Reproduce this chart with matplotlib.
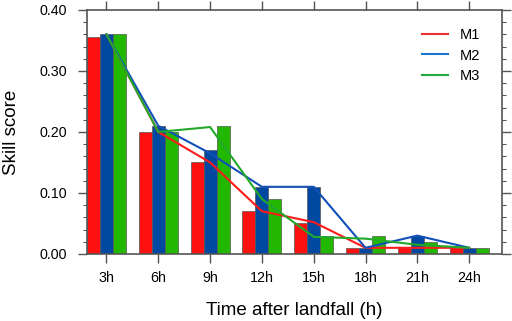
import numpy as np
import matplotlib
matplotlib.use("Agg")
import matplotlib.pyplot as plt
from matplotlib.ticker import MultipleLocator, FormatStrFormatter

plt.rcParams['font.family'] = ['Liberation Sans', 'DejaVu Sans']

# datos
horas = ['3h', '6h', '9h', '12h', '15h', '18h', '21h', '24h']
m1 = [0.355, 0.20, 0.15, 0.07, 0.05, 0.01, 0.01, 0.01]
m2 = [0.36, 0.21, 0.17, 0.11, 0.11, 0.01, 0.03, 0.01]
m3 = [0.36, 0.20, 0.21, 0.09, 0.03, 0.03, 0.02, 0.01]

# lineas (pasan por el centro de cada grupo)
m1_line = [0.36, 0.20, 0.15, 0.07, 0.052, 0.01, 0.01, 0.01]
m2_line = [0.36, 0.21, 0.165, 0.11, 0.11, 0.01, 0.03, 0.01]
m3_line = [0.36, 0.20, 0.208, 0.09, 0.028, 0.025, 0.015, 0.01]

bar_colors = ['#FF1010', '#0048A0', '#22B800']
line_colors = ['#FF1A1A', '#1050B8', '#22A82A']
leg_colors = ['#F03030', '#1878D0', '#20A840']

fig = plt.figure(figsize=(5.12, 3.21), dpi=100)
ax = fig.add_axes([0.170, 0.209, 0.810, 0.760])

x = np.arange(len(horas))
w = 0.25
for i, serie in enumerate([m1, m2, m3]):
    ax.bar(x + (i - 1) * w, serie, width=w, color=bar_colors[i],
           edgecolor='#555555', linewidth=0.5, zorder=2)

for i, serie in enumerate([m1_line, m2_line, m3_line]):
    ax.plot(x, serie, color=line_colors[i], lw=1.5, zorder=3)

# leyenda manual
for i, nombre in enumerate(['M1', 'M2', 'M3']):
    ax.plot([], [], color=leg_colors[i], lw=1.5, label=nombre)
handles = ax.get_lines()[3:]
ax.legend(handles=handles, loc='upper right', frameon=False, fontsize=10.5,
          handlelength=1.8, handletextpad=0.8, labelspacing=0.45,
          bbox_to_anchor=(0.98, 0.98))

ax.set_xlim(-0.375, 7.63)
ax.set_ylim(0, 0.40)
ax.set_xticks(x)
ax.set_xticklabels(horas)
ax.yaxis.set_major_locator(MultipleLocator(0.10))
ax.yaxis.set_minor_locator(MultipleLocator(0.02))
ax.yaxis.set_major_formatter(FormatStrFormatter('%.2f'))

ax.tick_params(axis='both', which='major', direction='out', length=6.5,
               width=1, color='#555555', labelsize=10.3)
ax.tick_params(axis='y', which='major', pad=8)
ax.tick_params(axis='x', which='major', pad=6)
ax.tick_params(axis='y', which='minor', direction='out', length=3,
               width=0.8, color='#555555')
ax.tick_params(top=True, right=True, which='both')

for s in ax.spines.values():
    s.set_color('#555555')
    s.set_linewidth(1.2)

ax.set_xlabel('Time after landfall (h)', fontsize=13.5, labelpad=12)
ax.set_ylabel('Skill score', fontsize=13.5, labelpad=14)

fig.savefig('out.png', dpi=100)
